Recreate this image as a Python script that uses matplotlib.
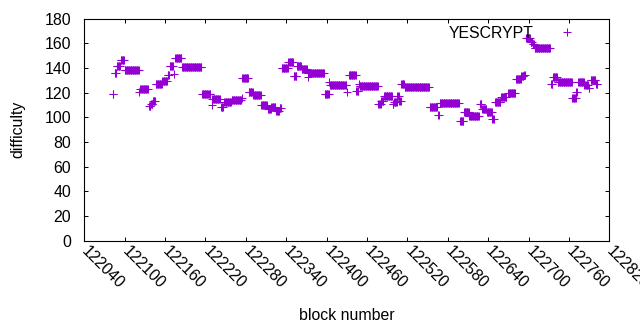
import matplotlib
matplotlib.use('Agg')
import matplotlib.pyplot as plt
import numpy as np

'''
YESCRYPT difficulty per block, read off the reference chart.
Each entry is a run of blocks (first block, last block) that share one difficulty.
'''

run_start = [122082, 122085, 122088, 122094, 122100, 122122, 122123, 122136, 122139, 122142,
             122146, 122156, 122164, 122167, 122173, 122175, 122185, 122215, 122229, 122230,
             122243, 122248, 122259, 122274, 122275, 122284, 122291, 122303, 122313, 122318,
             122325, 122330, 122333, 122343, 122351, 122356, 122363, 122372, 122373, 122397,
             122404, 122405, 122430, 122433, 122444, 122448, 122449, 122477, 122481, 122485,
             122498, 122500, 122505, 122508, 122511, 122516, 122553, 122566, 122568, 122598,
             122604, 122612, 122628, 122631, 122638, 122646, 122650, 122659, 122670, 122681,
             122689, 122693, 122696, 122703, 122706, 122709, 122733, 122736, 122743, 122765,
             122771, 122774, 122783, 122789, 122792, 122800]
run_end = [122083, 122087, 122093, 122099, 122121, 122122, 122134, 122138, 122141, 122145,
           122155, 122163, 122166, 122172, 122173, 122184, 122214, 122227, 122229, 122241,
           122246, 122258, 122273, 122274, 122283, 122290, 122302, 122311, 122317, 122324,
           122329, 122332, 122342, 122350, 122355, 122362, 122371, 122372, 122396, 122403,
           122404, 122429, 122430, 122443, 122447, 122448, 122476, 122480, 122484, 122497,
           122499, 122504, 122507, 122510, 122515, 122552, 122564, 122567, 122596, 122603,
           122611, 122626, 122630, 122637, 122645, 122648, 122658, 122667, 122680, 122688,
           122692, 122694, 122702, 122705, 122708, 122732, 122735, 122742, 122764, 122770,
           122772, 122782, 122788, 122790, 122799, 122802]
run_value = [118.5, 136.0, 141.5, 146.5, 138.0, 120.5, 122.5, 109.0, 111.0, 113.5,
             126.8, 129.2, 134.0, 141.4, 135.0, 148.0, 140.5, 119.0, 109.7, 114.5,
             108.4, 112.4, 114.0, 115.6, 132.0, 120.5, 117.8, 109.7, 106.5, 108.2,
             105.0, 107.5, 140.0, 144.8, 133.2, 141.6, 138.9, 132.7, 135.9, 118.9,
             128.6, 126.4, 120.5, 134.0, 121.0, 127.3, 125.4, 111.0, 113.0, 117.3,
             110.5, 112.5, 117.3, 113.0, 127.0, 124.3, 108.1, 101.6, 111.6, 96.8,
             104.3, 100.8, 111.0, 106.5, 104.0, 98.5, 112.4, 116.7, 119.7, 130.8,
             133.5, 134.5, 164.3, 161.0, 159.0, 156.2, 127.0, 132.7, 128.4, 115.6,
             120.5, 128.6, 126.4, 123.8, 130.5, 127.3]

x_ticks = list(range(122040, 122821, 60))
y_ticks = list(range(0, 181, 20))

blocks = np.concatenate([np.arange(s, e + 1) for s, e in zip(run_start, run_end)])
difficulty = np.concatenate([np.full(e - s + 1, v) for s, e, v in zip(run_start, run_end, run_value)])

plt.rcParams['font.family'] = ['Liberation Sans', 'DejaVu Sans']
plt.rcParams['font.size'] = 11.4

fig = plt.figure(figsize=(6.4, 3.3), dpi=100)
ax = fig.add_axes([0.1317, 0.2712, 0.8205, 0.6724])

ax.plot(blocks, difficulty, linestyle='none', marker='+', markersize=5.3,
        markeredgewidth=0.75, color='#9400d3', label='YESCRYPT')

ax.set_xlim(122040, 122820)
ax.set_ylim(0, 180)
ax.set_xticks(x_ticks)
ax.set_yticks(y_ticks)
ax.set_xticklabels([str(t) for t in x_ticks], rotation=-45, ha='left', va='center',
                   rotation_mode='anchor')
ax.tick_params(direction='in', length=3, width=0.7, top=True, right=True)
ax.tick_params(axis='x', pad=6)
ax.tick_params(axis='y', pad=9.5)
for side in ax.spines.values():
    side.set_linewidth(0.8)

ax.set_xlabel('block number', labelpad=12)
ax.set_ylabel('difficulty', labelpad=13.5)

ax.legend(loc='upper right', bbox_to_anchor=(0.98, 0.968), frameon=False, markerfirst=False,
          handlelength=4, handletextpad=0.15, borderpad=0, borderaxespad=0, numpoints=1)

fig.savefig('out.png', dpi=100)
